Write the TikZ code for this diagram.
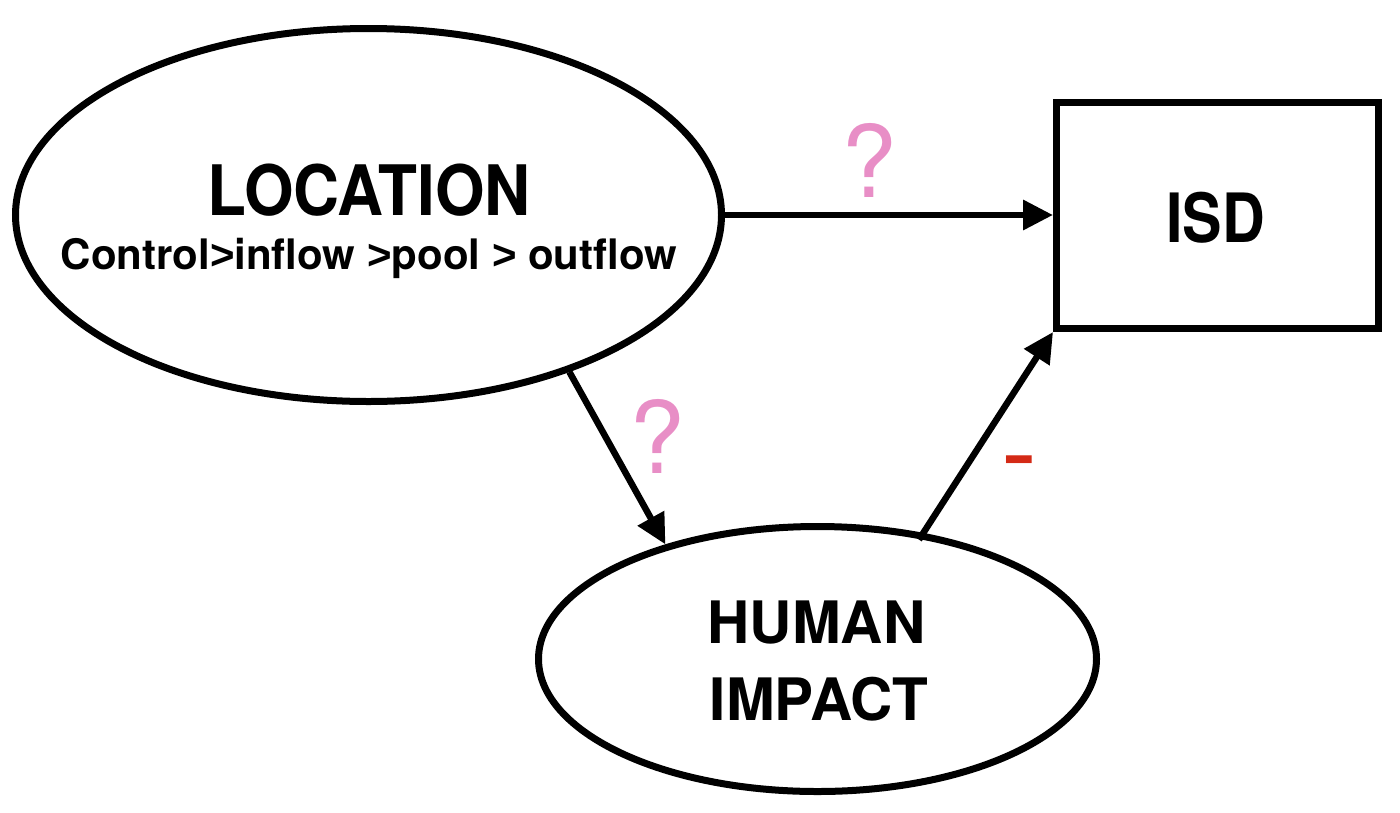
\documentclass[tikz,border=0pt]{standalone}
\usepackage{fontspec}
\setmainfont{TeX Gyre Heros}
\newfontfamily\condfont[FakeStretch=0.915]{TeX Gyre Heros}
\newfontfamily\isdfont[FakeStretch=0.87]{TeX Gyre Heros}
\newfontfamily\gtfont{Liberation Sans}
\newcommand{\gtsym}{{\gtfont\bfseries >}}
\usetikzlibrary{shapes.geometric,arrows.meta}
\definecolor{qpink}{HTML}{E88EC6}
\definecolor{mred}{HTML}{D42A16}
\tikzset{
  shapeline/.style={draw=black, line width=7pt, inner sep=0pt},
  ell/.style={shapeline, ellipse},
  boxnode/.style={shapeline, rectangle},
  conn/.style={line width=6.5pt, -{Triangle[length=30pt,width=29pt]}},
  qmark/.style={anchor=base, inner sep=0pt, text=qpink, font=\fontsize{100}{100}\selectfont},
  txt/.style={anchor=base, inner sep=0pt}
}
\begin{document}
\begin{tikzpicture}[x=1pt,y=-1pt]
\useasboundingbox (0,0) rectangle (1400,812);
% shapes
\node[ell, minimum width=706pt, minimum height=373pt] (loc) at (368.5,215) {};
\node[ell, minimum width=558pt, minimum height=265pt] (hum) at (817.5,659) {};
\node[boxnode, minimum width=322pt, minimum height=226pt] (isd) at (1217.5,215.5) {};
% texts
\node[txt] (loctitle) at (369,215) {\condfont\bfseries\fontsize{69.6}{70}\selectfont LOCATION};
\node[txt] (locsub) at (369,269) {\bfseries\fontsize{42}{42}\selectfont Control\gtsym inflow \gtsym pool \gtsym{} outflow};
\node[txt] (isdtxt) at (1215.5,242) {\isdfont\bfseries\fontsize{68}{68}\selectfont ISD};
\node[txt] (hum1) at (816.5,643) {\bfseries\fontsize{58.5}{58.5}\selectfont HUMAN};
\node[txt] (hum2) at (819,720) {\bfseries\fontsize{58.5}{58.5}\selectfont IMPACT};
% connectors
\draw[conn] (loc.east) -- (loc.east -| isd.west);
\draw[conn] (loc.-38.5) -- (hum.143.3);
\draw[conn, shorten <=-8pt] (hum.50.5) -- (isd.south west);
% labels
\node[qmark] (q1) at (869,197) {?};
\node[qmark] (q2) at (657,473) {?};
\node[anchor=base, inner sep=0pt, text=mred, font=\fontsize{108}{108}\selectfont] (minus) at (1019,489) {-};
\end{tikzpicture}
\end{document}
